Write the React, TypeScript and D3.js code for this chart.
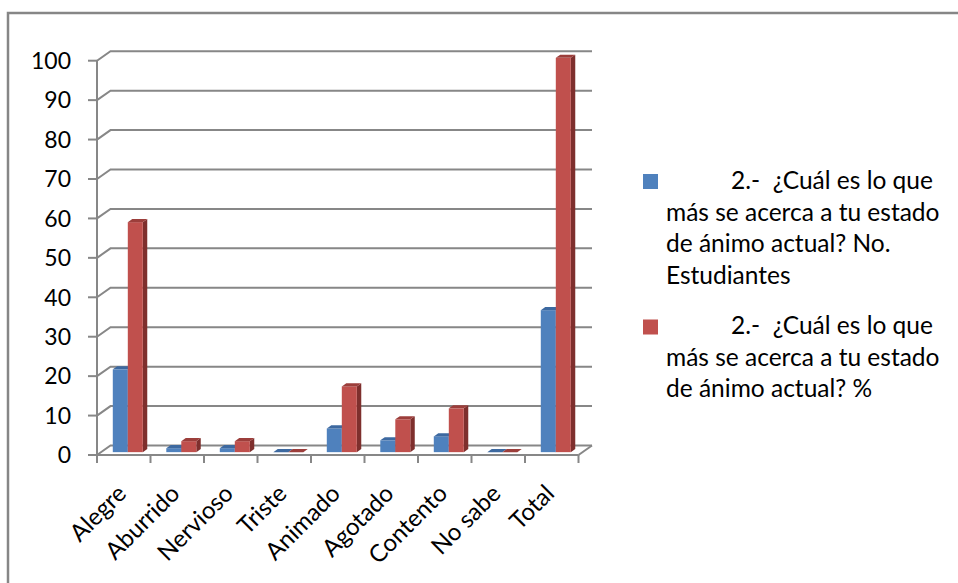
import React from "react";
import * as d3 from "d3";

const categories = ["Alegre", "Aburrido", "Nervioso", "Triste", "Animado", "Agotado", "Contento", "No sabe", "Total"];
const estudiantes = [21, 1, 1, 0, 6, 3, 4, 0, 36];
const porcentaje = [58.33, 2.78, 2.78, 0, 16.67, 8.33, 11.11, 0, 100];
const yTicks = [0, 10, 20, 30, 40, 50, 60, 70, 80, 90, 100];
const legend1 = ["2.-  ¿Cuál es lo que", "más se acerca a tu estado", "de ánimo actual? No.", "Estudiantes"];
const legend2 = ["2.-  ¿Cuál es lo que", "más se acerca a tu estado", "de ánimo actual? %"];

const W = 958;
const H = 583;
const DX = 13.5;
const DY = -9.5;
const F0 = 0.3;
const F1 = 0.63;
const FONT = "Lato, 'Open Sans', sans-serif";

const seriesDefs = [
  { values: estudiantes, front: "#4F81BD", top: "#3D69A0", side: "#2F5480" },
  { values: porcentaje, front: "#C0504D", top: "#9C3E3B", side: "#7E2F2D" },
];

export default function App() {
  const x = d3.scaleBand<string>().domain(categories).range([97, 578.5]).paddingInner(0).paddingOuter(0);
  const x1 = d3.scaleBand<number>().domain([0, 1]).range([0, x.bandwidth()]).paddingInner(0).paddingOuter(0.783);
  const y = d3.scaleLinear().domain([0, 100]).range([455, 60.7]);
  const xL = 97;
  const xR = 578.5;
  const y0 = y(0);

  const bars: React.ReactNode[] = [];
  categories.forEach((c, i) => {
    seriesDefs.forEach((s, si) => {
      const v = s.values[i];
      const xl = (x(c) as number) + (x1(si) as number);
      const w = x1.bandwidth();
      const a = xl + F0 * DX;
      const b = xl + w + F0 * DX;
      const b1 = xl + w + F1 * DX;
      const a1 = xl + F1 * DX;
      const yt0 = y(v) + F0 * DY;
      const yt1 = y(v) + F1 * DY;
      const yb0 = y0 + F0 * DY;
      const yb1 = y0 + F1 * DY;
      bars.push(
        <g key={`${c}-${si}`}>
          <polygon points={`${b},${yt0} ${b1},${yt1} ${b1},${yb1} ${b},${yb0}`} fill={s.side} />
          <rect x={a} y={yt0} width={w} height={Math.max(0, yb0 - yt0)} fill={s.front} />
          <polygon points={`${a},${yt0} ${b},${yt0} ${b1},${yt1} ${a1},${yt1}`} fill={s.top} />
        </g>
      );
    });
  });

  const gridColor = "#878787";
  const LS = 31.5;

  return (
    <div style={{ position: "absolute", left: 0, top: 0, width: W, height: H, overflow: "hidden", background: "#fff" }}>
      <svg width={W} height={H} style={{ display: "block" }}>
        <rect x={0} y={0} width={W} height={H} fill="#fff" />
        <rect x={8} y={13} width={1200} height={1200} fill="none" stroke="#868686" strokeWidth={2.5} />
        {yTicks.map((t) => (
          <polyline
            key={`g${t}`}
            points={`${xL},${y(t)} ${xL + DX},${y(t) + DY} ${xR + DX},${y(t) + DY}`}
            fill="none"
            stroke={gridColor}
            strokeWidth={2}
          />
        ))}
        <line x1={xR} y1={y0} x2={xR + DX} y2={y0 + DY} stroke={gridColor} strokeWidth={2} />
        {bars}
        <line x1={xL} y1={y(100)} x2={xL} y2={y0} stroke={gridColor} strokeWidth={2} />
        <line x1={xL} y1={y0} x2={xR} y2={y0} stroke={gridColor} strokeWidth={2} />
        {yTicks.map((t) => (
          <line key={`yt${t}`} x1={88} y1={y(t)} x2={xL} y2={y(t)} stroke={gridColor} strokeWidth={2} />
        ))}
        {categories.concat([""]).map((c, i) => {
          const xx = xL + i * x.step();
          return <line key={`xt${i}`} x1={xx} y1={y0} x2={xx} y2={y0 + 8} stroke={gridColor} strokeWidth={2} />;
        })}
        {yTicks.map((t) => (
          <text key={`yl${t}`} x={71} y={y(t)} dy="0.36em" textAnchor="end" fontFamily={FONT} fontSize={23} fill="#000">
            {t}
          </text>
        ))}
        {categories.map((c) => {
          const cx = (x(c) as number) + x.bandwidth() / 2 + 4;
          return (
            <text
              key={`xl${c}`}
              transform={`translate(${cx},495) rotate(-45)`}
              textAnchor="end"
              fontFamily={FONT}
              fontSize={24}
              fill="#000"
            >
              {c}
            </text>
          );
        })}
        <rect x={643} y={174} width={15} height={15} fill="#4F81BD" />
        {legend1.map((l, i) => (
          <text key={`l1${i}`} x={i === 0 ? 731 : 666} y={189 + i * LS} fontFamily={FONT} fontSize={24.5} fill="#000" style={{ whiteSpace: "pre" }}>
            {l}
          </text>
        ))}
        <rect x={643} y={319.5} width={15} height={15} fill="#C0504D" />
        {legend2.map((l, i) => (
          <text key={`l2${i}`} x={i === 0 ? 731 : 666} y={334 + i * LS} fontFamily={FONT} fontSize={24.5} fill="#000" style={{ whiteSpace: "pre" }}>
            {l}
          </text>
        ))}
      </svg>
    </div>
  );
}
